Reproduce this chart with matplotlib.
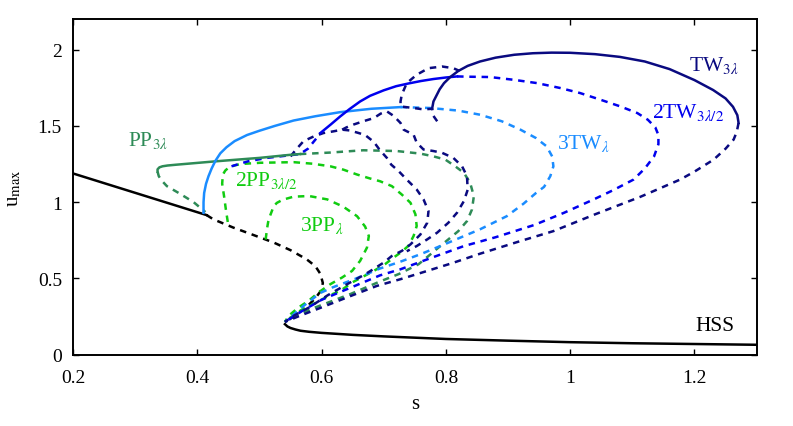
import matplotlib.pyplot as plt
import numpy as np
from matplotlib.ticker import FuncFormatter

plt.rcParams["font.family"] = "Liberation Serif"
plt.rcParams["mathtext.fontset"] = "stix"

# (s, u_max) points
hss_hi = [(0.2, 1.188), (0.3, 1.061), (0.415, 0.915)]
hss_mid = [(0.415, 0.915), (0.426, 0.887), (0.458, 0.833), (0.49, 0.785),
           (0.523, 0.735), (0.55, 0.685), (0.576, 0.625), (0.59, 0.58),
           (0.598, 0.53), (0.602, 0.47), (0.599, 0.42), (0.59, 0.37),
           (0.575, 0.31), (0.558, 0.26), (0.541, 0.21)]
hss_lo = [(0.541, 0.2), (0.545, 0.185), (0.55, 0.175), (0.558, 0.165),
          (0.566, 0.157), (0.58, 0.15), (0.6, 0.143), (0.65, 0.13),
          (0.7, 0.12), (0.8, 0.103), (0.9, 0.092), (1.0, 0.082),
          (1.1, 0.075), (1.2, 0.07), (1.3, 0.065)]

pp3_stable = [(0.565, 1.315), (0.549, 1.31), (0.5, 1.29), (0.431, 1.268),
              (0.388, 1.253), (0.365, 1.245), (0.352, 1.24), (0.344, 1.235),
              (0.339, 1.228), (0.336, 1.215), (0.336, 1.2)]
pp3_left = [(0.336, 1.2), (0.338, 1.17), (0.343, 1.14), (0.351, 1.105),
            (0.37, 1.06), (0.394, 1.0), (0.413, 0.935)]
pp3_right = [(0.565, 1.315), (0.614, 1.325), (0.667, 1.34), (0.721, 1.335),
             (0.759, 1.318), (0.78, 1.3), (0.799, 1.279), (0.815, 1.235),
             (0.829, 1.192), (0.839, 1.127), (0.845, 1.039), (0.842, 0.952),
             (0.834, 0.876), (0.82, 0.81), (0.804, 0.756), (0.788, 0.702),
             (0.772, 0.647), (0.756, 0.593), (0.725, 0.53), (0.694, 0.48),
             (0.646, 0.397), (0.59, 0.31), (0.555, 0.25), (0.541, 0.215)]

tw_stable = [(0.41, 0.93), (0.41, 1.0), (0.411, 1.06), (0.414, 1.12),
             (0.418, 1.17), (0.423, 1.22), (0.429, 1.27), (0.437, 1.32),
             (0.447, 1.36), (0.46, 1.4), (0.48, 1.44), (0.5, 1.468),
             (0.525, 1.5), (0.555, 1.535), (0.59, 1.563), (0.63, 1.59),
             (0.68, 1.612), (0.727, 1.623)]
tw_unstable = [(0.727, 1.623), (0.775, 1.617), (0.82, 1.6), (0.855, 1.573),
               (0.89, 1.53), (0.92, 1.475), (0.945, 1.42), (0.962, 1.366),
               (0.971, 1.3), (0.973, 1.235), (0.968, 1.17), (0.958, 1.1),
               (0.945, 1.06), (0.925, 0.99), (0.898, 0.908), (0.855, 0.822),
               (0.791, 0.712), (0.76, 0.66), (0.727, 0.61), (0.694, 0.565),
               (0.654, 0.497), (0.617, 0.44), (0.598, 0.405), (0.571, 0.32),
               (0.541, 0.215)]

tw2_left = [(0.455, 1.235), (0.464, 1.246), (0.482, 1.268), (0.512, 1.29),
            (0.544, 1.305), (0.565, 1.315), (0.578, 1.35), (0.59, 1.41),
            (0.598, 1.453)]
tw2_stable = [(0.598, 1.453), (0.615, 1.51), (0.63, 1.562), (0.645, 1.61),
              (0.662, 1.66), (0.678, 1.697), (0.7, 1.733), (0.72, 1.76),
              (0.74, 1.778), (0.76, 1.794), (0.78, 1.807), (0.8, 1.817),
              (0.818, 1.824)]
tw2_unstable = [(0.818, 1.824), (0.839, 1.822), (0.871, 1.82), (0.909, 1.802),
                (0.947, 1.78), (0.984, 1.748), (1.016, 1.715), (1.049, 1.671),
                (1.081, 1.627), (1.108, 1.584), (1.125, 1.54), (1.137, 1.49),
                (1.142, 1.44), (1.142, 1.38), (1.135, 1.3), (1.12, 1.22),
                (1.102, 1.148), (1.07, 1.08), (1.038, 1.018), (0.99, 0.93),
                (0.942, 0.85), (0.88, 0.77), (0.829, 0.712), (0.78, 0.64),
                (0.727, 0.56), (0.694, 0.52), (0.65, 0.445), (0.6, 0.36),
                (0.57, 0.29), (0.541, 0.215)]

tw3_stable = [(0.778, 1.617), (0.78, 1.66), (0.785, 1.7), (0.79, 1.74),
              (0.797, 1.78), (0.807, 1.82), (0.82, 1.86), (0.835, 1.893),
              (0.855, 1.922), (0.88, 1.947), (0.91, 1.966), (0.94, 1.976),
              (0.97, 1.98), (1.0, 1.979), (1.04, 1.97), (1.08, 1.952),
              (1.12, 1.922), (1.16, 1.872), (1.2, 1.8), (1.23, 1.735),
              (1.25, 1.68), (1.262, 1.625), (1.269, 1.57), (1.271, 1.519)]
tw3_unstable = [(1.271, 1.519), (1.268, 1.46), (1.263, 1.41), (1.25, 1.35),
                (1.231, 1.279), (1.2, 1.2), (1.177, 1.148), (1.113, 1.035),
                (1.04, 0.92), (0.973, 0.81), (0.92, 0.745), (0.855, 0.662),
                (0.81, 0.6), (0.762, 0.539), (0.727, 0.495), (0.689, 0.451),
                (0.65, 0.39), (0.6, 0.31), (0.565, 0.255), (0.541, 0.215)]
tw3_loop = [(0.786, 1.53), (0.78, 1.565), (0.778, 1.612), (0.764, 1.608),
            (0.748, 1.617), (0.727, 1.627), (0.727, 1.66), (0.729, 1.704),
            (0.737, 1.78), (0.753, 1.835), (0.772, 1.878), (0.794, 1.889),
            (0.812, 1.878), (0.822, 1.86)]
tw3_branch_a = [(0.55, 1.3), (0.56, 1.35), (0.571, 1.4), (0.587, 1.43),
                (0.603, 1.453), (0.619, 1.464), (0.633, 1.475), (0.645, 1.47),
                (0.658, 1.455), (0.67, 1.44), (0.684, 1.395), (0.694, 1.34),
                (0.705, 1.29), (0.712, 1.246), (0.724, 1.203), (0.737, 1.148),
                (0.753, 1.083), (0.764, 1.018), (0.772, 0.941), (0.77, 0.865),
                (0.759, 0.788), (0.743, 0.723), (0.729, 0.68), (0.713, 0.647),
                (0.7, 0.604), (0.685, 0.565), (0.67, 0.527), (0.64, 0.46),
                (0.61, 0.39), (0.58, 0.31), (0.555, 0.255), (0.541, 0.215)]
tw3_branch_b = [(0.633, 1.475), (0.64, 1.49), (0.651, 1.508), (0.667, 1.53),
                (0.684, 1.551), (0.695, 1.58), (0.705, 1.595), (0.716, 1.565),
                (0.727, 1.519), (0.732, 1.475), (0.748, 1.442), (0.753, 1.39),
                (0.764, 1.345), (0.78, 1.335), (0.794, 1.323), (0.812, 1.29),
                (0.826, 1.235), (0.834, 1.17), (0.835, 1.08), (0.829, 1.007),
                (0.818, 0.931), (0.804, 0.865), (0.786, 0.8), (0.77, 0.756),
                (0.753, 0.712), (0.737, 0.678)]

pp2 = [(0.449, 0.87), (0.446, 0.95), (0.443, 1.04), (0.44, 1.12),
       (0.441, 1.18), (0.445, 1.207), (0.45, 1.225), (0.46, 1.241),
       (0.47, 1.25), (0.501, 1.258), (0.555, 1.262), (0.585, 1.252),
       (0.614, 1.235), (0.635, 1.213), (0.657, 1.181), (0.678, 1.155),
       (0.694, 1.137), (0.713, 1.105), (0.729, 1.05), (0.743, 0.996),
       (0.751, 0.92), (0.753, 0.843), (0.748, 0.778), (0.74, 0.715),
       (0.729, 0.675), (0.716, 0.637), (0.702, 0.593), (0.684, 0.549),
       (0.649, 0.473), (0.63, 0.418), (0.611, 0.386), (0.592, 0.342),
       (0.574, 0.31), (0.557, 0.266), (0.541, 0.215)]
pp3l = [(0.51, 0.755), (0.512, 0.822), (0.514, 0.87), (0.517, 0.91),
        (0.523, 0.974), (0.528, 0.995), (0.537, 1.015), (0.555, 1.036),
        (0.58, 1.04), (0.609, 1.018), (0.635, 0.97), (0.657, 0.908),
        (0.67, 0.84), (0.676, 0.778), (0.673, 0.702), (0.662, 0.615),
        (0.649, 0.549), (0.633, 0.506), (0.614, 0.462), (0.595, 0.408),
        (0.579, 0.353), (0.563, 0.31), (0.547, 0.255), (0.541, 0.215)]

s_ticks = [0.2, 0.4, 0.6, 0.8, 1.0, 1.2]
u_ticks = [0, 0.5, 1, 1.5, 2]

BLACK = "black"
SEA = "#2e8b57"
GREEN = "#11cc11"
LIGHT = "#1a8cff"
BLUE = "#0000ee"
NAVY = "#0a0a80"

fig = plt.figure(figsize=(7.93, 4.27), dpi=100)
ax = fig.add_axes([0.0921, 0.167, 0.862, 0.786])

LW = 1.8
DASH = (2.6, 2.3)


def draw(pts, color, dashed=False):
    s, u = np.array(pts).T
    if dashed:
        ax.plot(s, u, color=color, lw=LW, dashes=DASH)
    else:
        ax.plot(s, u, color=color, lw=LW, solid_joinstyle="round")


# unstable branches first, stable on top
draw(hss_mid, BLACK, True)
draw(pp3l, GREEN, True)
draw(pp2, GREEN, True)
draw(pp3_left, SEA, True)
draw(pp3_right, SEA, True)
draw(tw_unstable, LIGHT, True)
draw(tw2_left, BLUE, True)
draw(tw2_unstable, BLUE, True)
draw(tw3_unstable, NAVY, True)
draw(tw3_branch_a, NAVY, True)
draw(tw3_branch_b, NAVY, True)
draw(tw3_loop, NAVY, True)

draw(hss_hi, BLACK)
draw(hss_lo, BLACK)
draw(pp3_stable, SEA)
draw(tw_stable, LIGHT)
draw(tw2_stable, BLUE)
draw(tw3_stable, NAVY)

# branch labels
fs = 15.5
ax.text(0.289, 1.41, r"PP$_{3\lambda}$", color=SEA, fontsize=fs, va="center")
ax.text(0.461, 1.148, r"2PP$_{3\lambda/2}$", color=GREEN, fontsize=fs, va="center")
ax.text(0.566, 0.854, r"3PP$_{\lambda}$", color=GREEN, fontsize=fs, va="center")
ax.text(0.979, 1.388, r"3TW$_{\lambda}$", color=LIGHT, fontsize=fs, va="center")
ax.text(1.132, 1.595, r"2TW$_{3\lambda/2}$", color=BLUE, fontsize=fs, va="center")
ax.text(1.191, 1.9, r"TW$_{3\lambda}$", color=NAVY, fontsize=fs, va="center")
ax.text(1.202, 0.194, "HSS", color=BLACK, fontsize=fs, va="center")

ax.set_xlim(0.2, 1.3)
ax.set_ylim(0, 2.2)
ax.set_xticks(s_ticks)
ax.set_yticks(u_ticks)
ax.xaxis.set_major_formatter(FuncFormatter(lambda v, p: "%g" % v))
ax.yaxis.set_major_formatter(FuncFormatter(lambda v, p: "%g" % v))
ax.tick_params(direction="in", length=4, width=1, top=True, right=True,
               labelsize=14)
ax.tick_params(axis="x", pad=10)
ax.tick_params(axis="y", pad=8)
for sp in ax.spines.values():
    sp.set_linewidth(1.4)

ax.set_xlabel("s", fontsize=15, labelpad=6)
ax.set_ylabel(r"u$_{\rm max}$", fontsize=15, labelpad=10)

fig.savefig("out.png", dpi=100)
